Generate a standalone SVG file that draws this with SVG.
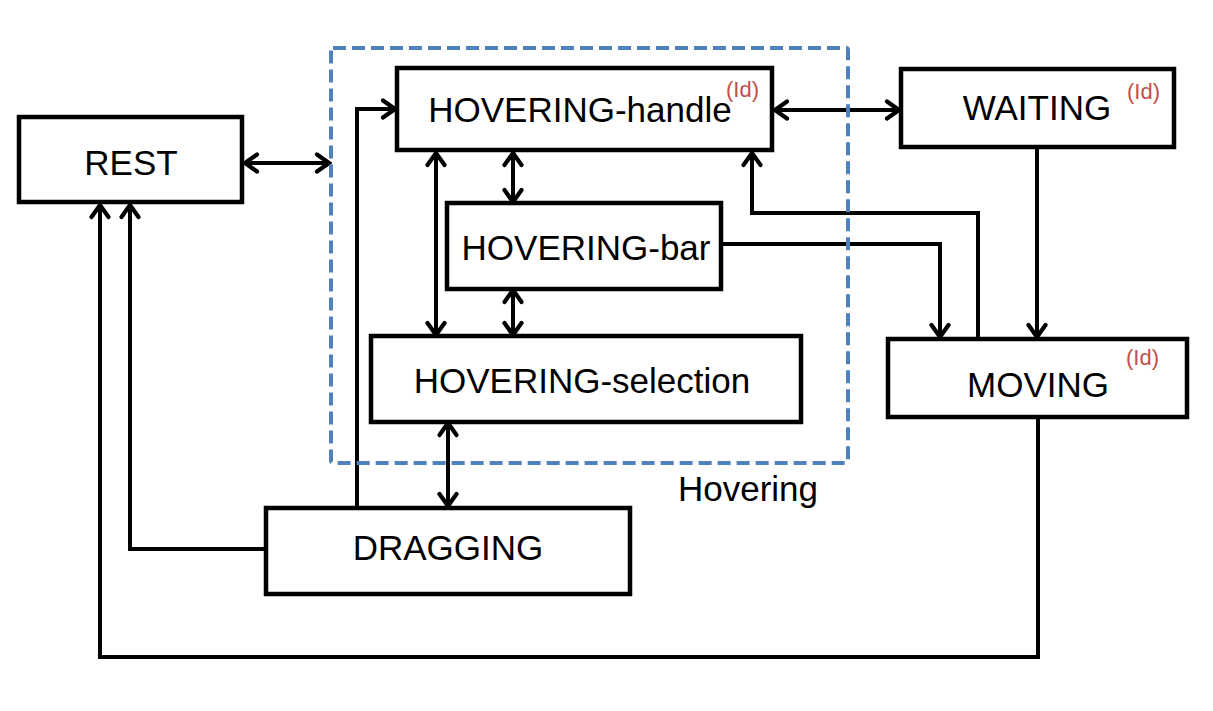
<svg xmlns="http://www.w3.org/2000/svg" width="1213" height="711" viewBox="0 0 1213 711">
<style>
.box{fill:#fff;stroke:#000;stroke-width:4.5}
.conn{fill:none;stroke:#000;stroke-width:4;stroke-linejoin:miter}
.lbl{font-family:"Liberation Sans",Arial,sans-serif;font-size:35px;fill:#000;text-anchor:middle}
.id{font-family:"Liberation Sans",Arial,sans-serif;font-size:22px;fill:#C0504D}
.grp{fill:none;stroke:#4F81BD;stroke-width:4;stroke-dasharray:13 6}
</style>
<defs>
<marker id="ah" markerUnits="userSpaceOnUse" markerWidth="18" markerHeight="22" viewBox="0 0 18 22" refX="15" refY="11" orient="auto-start-reverse">
<path d="M3,2.5 L15,11 L3,19.5" fill="none" stroke="#000" stroke-width="4.2" stroke-linecap="round" stroke-linejoin="miter"/>
</marker>
</defs>
<rect width="1213" height="711" fill="#fff"/>
<g id="connectors">
<path class="conn" d="M245,163 H329" marker-start="url(#ah)" marker-end="url(#ah)"/>
<path class="conn" d="M357,508 V109 H395" marker-end="url(#ah)"/>
<path class="conn" d="M266,549 H130 V205" marker-end="url(#ah)"/>
<path class="conn" d="M1038,418 V657 H100 V205" marker-end="url(#ah)"/>
<path class="conn" d="M775,110 H899" marker-start="url(#ah)" marker-end="url(#ah)"/>
<path class="conn" d="M1037,148 V337" marker-end="url(#ah)"/>
<path class="conn" d="M978,339 V213 H752 V153" marker-end="url(#ah)"/>
<path class="conn" d="M721,244 H940 V337" marker-end="url(#ah)"/>
<path class="conn" d="M513,153 V202" marker-start="url(#ah)" marker-end="url(#ah)"/>
<path class="conn" d="M513,290 V335" marker-start="url(#ah)" marker-end="url(#ah)"/>
<path class="conn" d="M436,153 V335" marker-start="url(#ah)" marker-end="url(#ah)"/>
<path class="conn" d="M448,423 V506" marker-start="url(#ah)" marker-end="url(#ah)"/>
</g>
<g id="group-hovering">
<rect class="grp" x="331" y="48" width="517" height="415" rx="2"/>
<text class="lbl" x="748" y="501">Hovering</text>
</g>
<g id="node-rest">
<rect class="box" x="19" y="117" width="223" height="85"/>
<text class="lbl" x="131" y="175">REST</text>
</g>
<g id="node-hovering-handle">
<rect class="box" x="397" y="68" width="375" height="82"/>
<text class="lbl" x="580" y="122">HOVERING-handle</text>
<text class="id" x="726" y="97">(Id)</text>
</g>
<g id="node-waiting">
<rect class="box" x="901" y="69" width="273" height="78"/>
<text class="lbl" x="1037" y="120">WAITING</text>
<text class="id" x="1127" y="99">(Id)</text>
</g>
<g id="node-hovering-bar">
<rect class="box" x="447" y="203" width="274" height="86"/>
<text class="lbl" x="586" y="260">HOVERING-bar</text>
</g>
<g id="node-hovering-selection">
<rect class="box" x="371" y="336" width="430" height="86"/>
<text class="lbl" x="582" y="393">HOVERING-selection</text>
</g>
<g id="node-moving">
<rect class="box" x="888" y="339" width="299" height="78"/>
<text class="lbl" x="1038" y="397">MOVING</text>
<text class="id" x="1126" y="365">(Id)</text>
</g>
<g id="node-dragging">
<rect class="box" x="266" y="508" width="364" height="86"/>
<text class="lbl" x="448" y="560">DRAGGING</text>
</g>
</svg>
